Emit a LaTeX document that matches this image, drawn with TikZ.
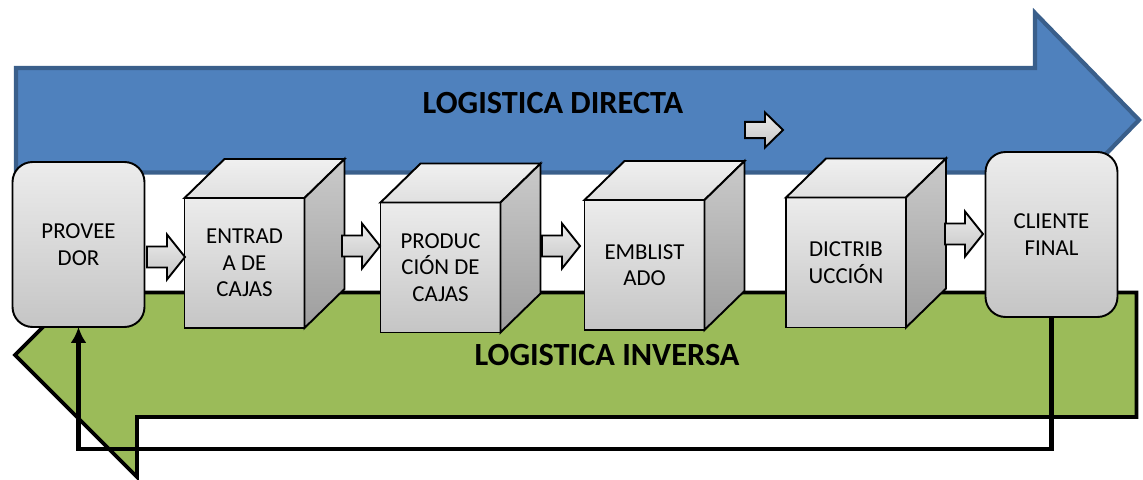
\documentclass[tikz,border=0pt]{standalone}
\usepackage{fontspec}
\setmainfont{Carlito}
\usetikzlibrary{calc,arrows.meta,backgrounds}

\definecolor{azul}{HTML}{4F81BD}
\definecolor{azulborde}{HTML}{3A5F8B}
\definecolor{verde}{HTML}{9BBB59}
\definecolor{grisA}{HTML}{ECECEC}
\definecolor{grisB}{HTML}{C5C5C5}
\definecolor{grisC}{HTML}{F0F0F0}
\definecolor{grisD}{HTML}{E0E0E0}
\definecolor{grisE}{HTML}{CACACA}
\definecolor{grisF}{HTML}{9E9E9E}

\tikzset{
  texto/.style={font=\fontsize{13}{15}\selectfont, align=center},
  caja/.style={texto, draw, line width=1.1pt, rounded corners=0.4cm,
    top color=grisA, bottom color=grisB, inner sep=0pt, outer sep=0pt,
    minimum width=2.64cm, minimum height=3.3cm},
  frente/.style={texto, draw, line width=1.1pt, top color=grisA,
    bottom color=grisB, inner sep=0pt, outer sep=0pt,
    minimum width=2.4cm, minimum height=2.6cm},
  tapa/.style={draw, line width=1.1pt, top color=grisC, bottom color=grisD},
  lado/.style={draw, line width=1.1pt, top color=grisE, bottom color=grisF},
  titulo/.style={font=\fontsize{18.4}{20}\selectfont\bfseries},
  flecha/.pic={
    \shadedraw[draw=black, line width=1.1pt, top color=grisA, bottom color=grisB]
      (0,-10.5) -- (20,-10.5) -- (20,-22.5) -- (38,0) -- (20,22.5)
      -- (20,10.5) -- (0,10.5) -- cycle;
  },
  retorno/.style={line width=2.4pt, -{Latex[length=9pt,width=9pt]}},
}

\begin{document}
\begin{tikzpicture}[x=0.02cm,y=-0.02cm]
\useasboundingbox (0,0) rectangle (1143,480);

% extremos de la cadena
\node[caja] (proveedor) at (78.5,244.5) {PROVEE\\DOR};
\node[caja] (cliente) at (1051.5,234.5) {CLIENTE\\FINAL};

% etapas (cubos)
\node[frente] (entrada) at (244.5,263) {ENTRAD\\A DE\\CAJAS};
\node[frente] (produccion) at (440.5,267.5) {PRODUC\\CIÓN DE\\CAJAS};
\node[frente] (emblistado) at (644.5,265) {EMBLIST\\ADO};
\node[frente] (distribucion) at (846,262.5) {DICTRIB\\UCCIÓN};
\foreach \cubo in {entrada,produccion,emblistado,distribucion}{
  \draw[tapa] (\cubo.north west) -- ++(40,-39)
    -- ($(\cubo.north east)+(40,-39)$) -- (\cubo.north east) -- cycle;
  \draw[lado] (\cubo.north east) -- ++(40,-39)
    -- ($(\cubo.south east)+(40,-39)$) -- (\cubo.south east) -- cycle;
}

% flechas entre etapas
\pic at (147,257) {flecha};
\pic at (342,246) {flecha};
\pic at (542,246) {flecha};
\pic at (945,234) {flecha};
\pic[yscale=0.78] at (745,130) {flecha};

\begin{scope}[on background layer]
% logistica directa
\draw[azulborde, fill=azul, line width=2.4pt]
  (16,68) -- (1035,68) -- (1035,13) -- (1139,120) -- (1035,227)
  -- (1035,172.5) -- (16,172.5) -- cycle;
\node[titulo] (directa) at (553,103) {LOGISTICA DIRECTA};
% logistica inversa
\draw[black, fill=verde, line width=2.2pt]
  (1136.5,292.5) -- (137,292.5) -- (137,233) -- (15,355) -- (137,477)
  -- (137,417) -- (1136.5,417) -- cycle;
\node[titulo] (inversa) at (607,355) {LOGISTICA INVERSA};
% retorno del cliente al proveedor
\draw[retorno] (cliente.south) -- ++(0,132) -| (proveedor.south);
\end{scope}
\end{tikzpicture}
\end{document}
